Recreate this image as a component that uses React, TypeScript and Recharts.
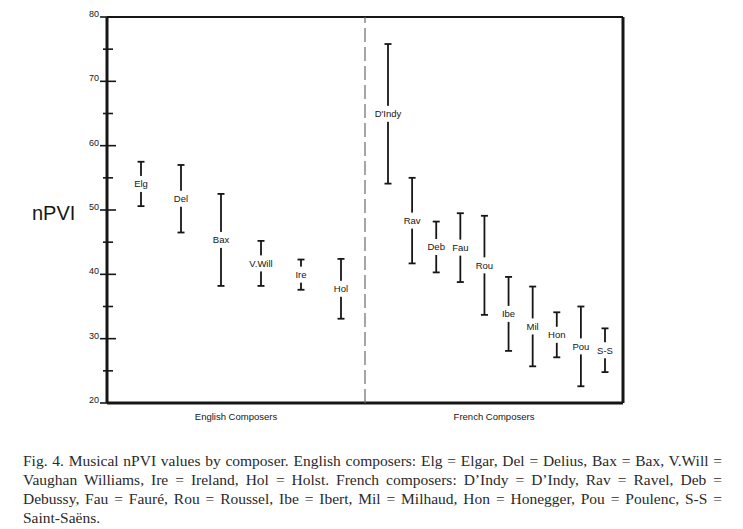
import { ComposedChart, Scatter, ErrorBar, XAxis, YAxis, ReferenceLine } from "recharts";

// ── Data ───────────────────────────────────────────────────────────────────
const groups = [{ group: "English Composers" }, { group: "French Composers" }];

const englishNames = ["Elg", "Del", "Bax", "V.Will", "Ire", "Hol"];
const englishLow = [50.6, 46.5, 38.2, 38.2, 37.6, 33.1];
const englishHigh = [57.5, 57.0, 52.5, 45.2, 42.3, 42.4];

const frenchNames = ["D'Indy", "Rav", "Deb", "Fau", "Rou", "Ibe", "Mil", "Hon", "Pou", "S-S"];
const frenchLow = [54.1, 41.7, 40.3, 38.8, 33.7, 28.1, 25.7, 27.1, 22.6, 24.8];
const frenchHigh = [75.8, 55.0, 48.2, 49.5, 49.1, 39.6, 38.1, 34.1, 35.0, 31.6];

const yTicks = [20, 25, 30, 35, 40, 45, 50, 55, 60, 65, 70, 75, 80];

const captionLines = [
  "Fig. 4. Musical nPVI values by composer. English composers: Elg = Elgar, Del = Delius, Bax = Bax, V.Will =",
  "Vaughan Williams, Ire = Ireland, Hol = Holst. French composers: D\u2019Indy = D\u2019Indy, Rav = Ravel, Deb =",
  "Debussy, Fau = Faur\u00e9, Rou = Roussel, Ibe = Ibert, Mil = Milhaud, Hon = Honegger, Pou = Poulenc, S-S =",
  "Saint-Sa\u00ebns.",
];

// ── Helpers ────────────────────────────────────────────────────────────────
const SANS = "'Liberation Sans', Arial, Helvetica, sans-serif";
const INK = "#161616";

function toRows(names: string[], low: number[], high: number[]) {
  return names.map((name, i) => {
    const mid = (low[i] + high[i]) / 2;
    return { name, mid, err: [mid - low[i], high[i] - mid] };
  });
}

const english = toRows(englishNames, englishLow, englishHigh);
const french = toRows(frenchNames, frenchLow, frenchHigh);

// label sits in the middle of each range, on a white patch that breaks the line
const NameTag = (props: any) => {
  const { cx, cy, payload } = props;
  const w = payload.name.length * 5.3 + 3;
  return (
    <g>
      <rect x={cx - w / 2} y={cy - 8} width={w} height={16} fill="#fff" />
      <text x={cx} y={cy} dy="0.35em" textAnchor="middle" fontSize={9.5} fill={INK} fontFamily={SANS}>
        {payload.name}
      </text>
    </g>
  );
};

const AxisTick = (props: any) => {
  const { x, y, payload, side } = props;
  const major = payload.value % 10 === 0;
  const left = side === "left";
  const x1 = left ? x - (major ? 7 : 4) : x - (major ? 7 : 5);
  const x2 = left ? x + (major ? 9 : 6) : x + (major ? 7 : 5);
  return (
    <g>
      <line x1={x1} x2={x2} y1={y} y2={y} stroke={INK} strokeWidth={1.6} />
      {major && (
        <text x={left ? x - 8 : x + 10} y={y - 1} dy="0.1em" textAnchor={left ? "end" : "start"}
          fontSize={9} fill={INK} fontFamily={SANS}>
          {payload.value}
        </text>
      )}
    </g>
  );
};

export default function App() {
  return (
    <div style={{ position: "fixed", left: 0, top: 0, width: 743, height: 529, background: "#fff", overflow: "hidden" }}>
      <ComposedChart width={743} height={440} data={groups} margin={{ top: 17, right: 80, bottom: 17, left: 67 }}>
        <XAxis xAxisId="en" type="category" dataKey="name" allowDuplicatedCategory={false} hide height={0}
          padding={{ left: 34, right: 282 }} />
        <XAxis xAxisId="fr" type="category" dataKey="name" allowDuplicatedCategory={false} hide height={0}
          padding={{ left: 281, right: 18 }} />
        {/* two halves of the plot: English | French */}
        <XAxis xAxisId="half" dataKey="group" type="category" scale="band" height={20}
          axisLine={false} tickLine={false} tickSize={0} tickMargin={10}
          tick={{ fontSize: 9.5, fill: INK, fontFamily: SANS }} />

        <YAxis yAxisId="left" dataKey="mid" type="number" domain={[20, 80]} ticks={yTicks} interval={0}
          width={40} tickSize={0} tickMargin={0} tickLine={false}
          axisLine={{ stroke: INK, strokeWidth: 3 }} tick={<AxisTick side="left" />} />
        <YAxis yAxisId="right" orientation="right" dataKey="mid" type="number" domain={[20, 80]} ticks={yTicks}
          interval={0} width={40} tickSize={0} tickMargin={0} tickLine={false}
          axisLine={{ stroke: INK, strokeWidth: 3 }} tick={<AxisTick side="right" />} />

        {/* frame top / bottom */}
        <ReferenceLine y={80} xAxisId="en" yAxisId="left" stroke={INK} strokeWidth={2.2} />
        <ReferenceLine y={20} xAxisId="en" yAxisId="left" stroke={INK} strokeWidth={2.8} />

        {/* divider between the two groups */}
        <ReferenceLine x="French Composers" xAxisId="half" yAxisId="left" position="start"
          stroke="#6b6b6b" strokeWidth={1.2} strokeDasharray="14 5" />

        <Scatter data={english} xAxisId="en" yAxisId="left" dataKey="mid" shape={<NameTag />} isAnimationActive={false}>
          <ErrorBar dataKey="err" direction="y" width={3.5} stroke={INK} strokeWidth={1.8} isAnimationActive={false} />
        </Scatter>
        <Scatter data={french} xAxisId="fr" yAxisId="left" dataKey="mid" shape={<NameTag />} isAnimationActive={false}>
          <ErrorBar dataKey="err" direction="y" width={3.5} stroke={INK} strokeWidth={1.8} isAnimationActive={false} />
        </Scatter>
      </ComposedChart>

      <div style={{ position: "absolute", left: 32, top: 200, fontFamily: SANS, fontSize: 20, color: INK, lineHeight: "26px" }}>
        nPVI
      </div>

      <div style={{ position: "absolute", left: 23, top: 451, width: 699, fontFamily: "'Liberation Serif', 'Times New Roman', serif",
        fontSize: 15.5, lineHeight: "19px", color: "#2a2a2a" }}>
        {captionLines.map((line, i) => (
          <div key={i} style={{ textAlign: "justify", textAlignLast: i < captionLines.length - 1 ? "justify" : "left", whiteSpace: "normal" }}>
            {line}
          </div>
        ))}
      </div>
    </div>
  );
}
